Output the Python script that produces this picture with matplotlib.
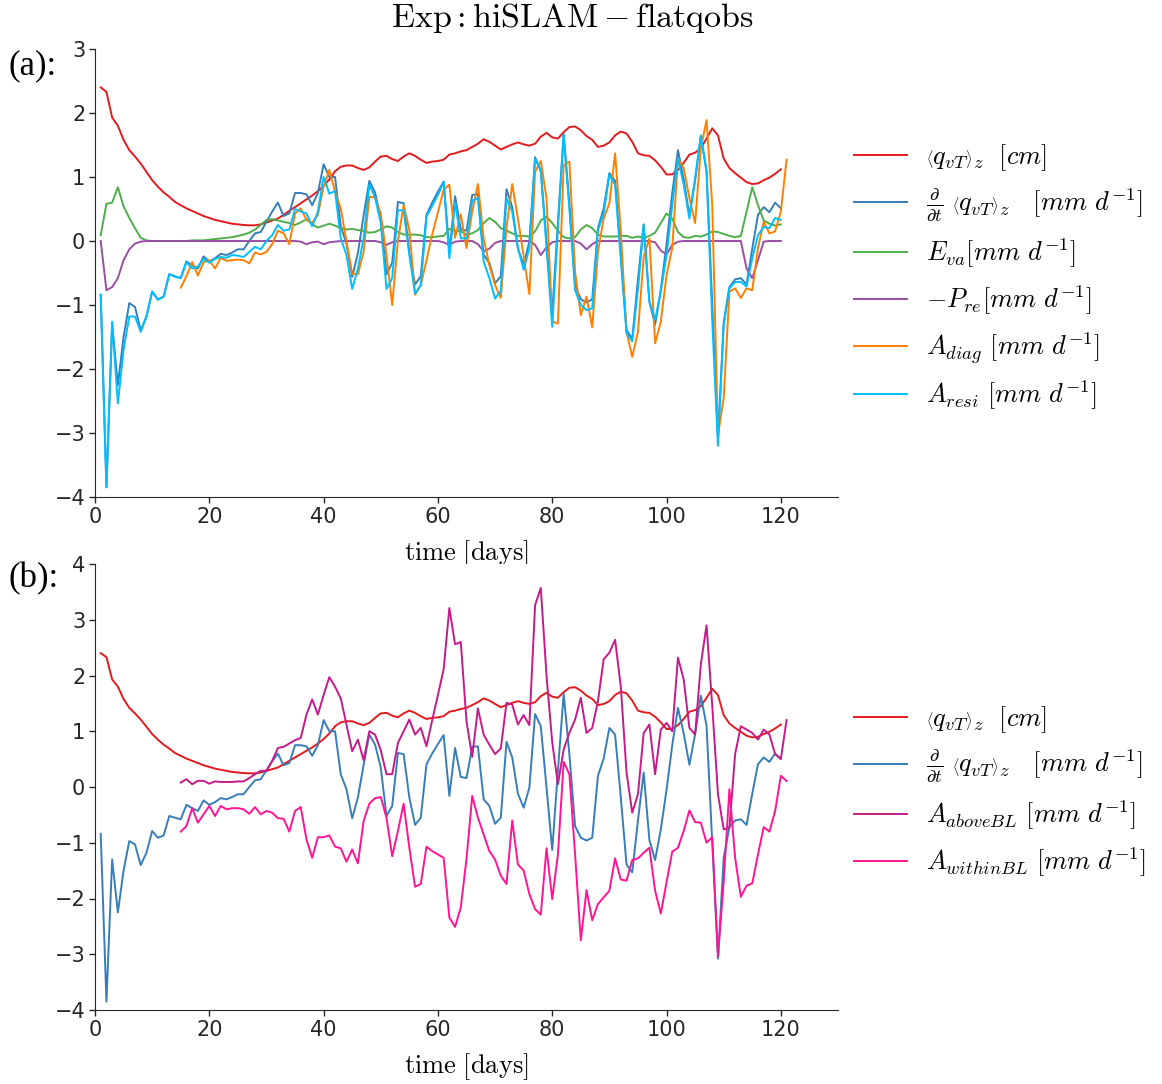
import numpy as np
import matplotlib
matplotlib.use("Agg")
import matplotlib.pyplot as plt

# ---- daily budget terms, day 1 .. 120 ----
qvt_cm = [2.40, 2.33, 1.93, 1.80, 1.58, 1.42, 1.32, 1.21, 1.08, 0.95,
          0.85, 0.76, 0.69, 0.61, 0.56, 0.51, 0.47, 0.43, 0.39, 0.36,
          0.33, 0.31, 0.29, 0.27, 0.26, 0.25, 0.245, 0.245, 0.26, 0.29,
          0.32, 0.35, 0.41, 0.47, 0.53, 0.59, 0.65, 0.71, 0.78, 0.86,
          0.96, 1.09, 1.16, 1.18, 1.18, 1.14, 1.11, 1.15, 1.24, 1.32,
          1.33, 1.28, 1.25, 1.32, 1.37, 1.33, 1.27, 1.22, 1.24, 1.25,
          1.27, 1.35, 1.37, 1.40, 1.42, 1.47, 1.52, 1.59, 1.55, 1.49,
          1.43, 1.47, 1.51, 1.54, 1.51, 1.49, 1.52, 1.63, 1.69, 1.62,
          1.60, 1.70, 1.78, 1.79, 1.73, 1.64, 1.58, 1.47, 1.49, 1.54,
          1.65, 1.71, 1.68, 1.55, 1.37, 1.34, 1.33, 1.26, 1.16, 1.04,
          1.04, 1.11, 1.22, 1.35, 1.38, 1.45, 1.60, 1.76, 1.65, 1.29,
          1.14, 1.06, 0.99, 0.92, 0.89, 0.90, 0.95, 0.99, 1.05, 1.12]

dqdt = [-0.84, -3.85, -1.30, -2.25, -1.50, -0.97, -1.03, -1.40, -1.18, -0.79,
        -0.91, -0.87, -0.52, -0.55, -0.58, -0.32, -0.38, -0.43, -0.24, -0.32,
        -0.27, -0.20, -0.22, -0.18, -0.13, -0.13, 0.00, 0.12, 0.14, 0.30,
        0.46, 0.60, 0.39, 0.43, 0.75, 0.75, 0.73, 0.56, 0.75, 1.20,
        1.00, 1.00, 0.23, -0.04, -0.56, -0.19, 0.40, 0.94, 0.76, 0.35,
        -0.52, -0.34, 0.61, 0.59, -0.19, -0.68, -0.55, 0.41, 0.60, 0.77,
        0.93, -0.16, 0.70, 0.18, 0.16, 0.72, 0.73, -0.22, -0.34, -0.66,
        -0.55, 0.81, 0.53, -0.12, -0.37, -0.01, 1.31, 1.09, -0.01, -1.13,
        0.30, 1.67, 0.59, -0.70, -0.91, -0.96, -0.91, 0.20, 0.51, 1.06,
        0.94, -0.19, -1.39, -1.53, -0.60, 0.26, -0.95, -1.31, -0.76, -0.05,
        0.75, 1.42, 0.96, 0.40, 0.95, 1.64, 1.10, -1.00, -3.08, -1.27,
        -0.72, -0.60, -0.58, -0.68, -0.12, 0.41, 0.53, 0.45, 0.60, 0.51]

evap = [0.09, 0.58, 0.60, 0.84, 0.54, 0.36, 0.20, 0.05, 0.01, 0.00,
        0.00, 0.00, 0.00, 0.00, 0.00, 0.00, 0.01, 0.01, 0.01, 0.02,
        0.03, 0.04, 0.05, 0.06, 0.08, 0.10, 0.13, 0.18, 0.25, 0.33,
        0.34, 0.32, 0.30, 0.28, 0.25, 0.29, 0.34, 0.26, 0.21, 0.24,
        0.27, 0.24, 0.20, 0.18, 0.19, 0.17, 0.16, 0.13, 0.14, 0.18,
        0.23, 0.21, 0.14, 0.10, 0.10, 0.10, 0.09, 0.06, 0.06, 0.07,
        0.08, 0.19, 0.16, 0.15, 0.10, 0.12, 0.17, 0.28, 0.36, 0.30,
        0.20, 0.16, 0.12, 0.08, 0.08, 0.07, 0.15, 0.32, 0.38, 0.28,
        0.16, 0.06, 0.04, 0.06, 0.18, 0.25, 0.20, 0.10, 0.07, 0.07,
        0.07, 0.08, 0.08, 0.05, 0.07, 0.05, 0.08, 0.13, 0.28, 0.43,
        0.35, 0.14, 0.06, 0.05, 0.08, 0.07, 0.10, 0.15, 0.14, 0.11,
        0.08, 0.06, 0.08, 0.46, 0.84, 0.56, 0.32, 0.27, 0.24, 0.26]

neg_prec = [0.00, -0.77, -0.72, -0.58, -0.30, -0.13, -0.04, -0.01, 0.00, 0.00,
            0.00, 0.00, 0.00, 0.00, 0.00, 0.00, 0.00, 0.00, 0.00, 0.00,
            0.00, 0.00, 0.00, 0.00, 0.00, 0.00, 0.00, 0.00, 0.00, 0.00,
            0.00, 0.00, 0.00, 0.00, 0.00, -0.01, -0.05, -0.02, -0.01, -0.05,
            -0.02, -0.01, 0.00, 0.00, 0.00, 0.00, 0.00, 0.00, 0.00, -0.02,
            -0.06, -0.02, 0.00, 0.00, 0.00, 0.00, 0.00, 0.00, 0.00, 0.00,
            -0.02, -0.06, -0.01, 0.00, 0.00, 0.00, -0.05, -0.16, -0.12, -0.03,
            0.00, 0.00, 0.00, 0.00, 0.00, 0.00, -0.06, -0.22, -0.10, -0.02,
            0.00, 0.00, 0.00, 0.00, -0.04, -0.13, -0.05, 0.00, 0.00, 0.00,
            0.00, 0.00, 0.00, 0.00, 0.00, 0.00, 0.00, -0.02, -0.15, -0.21,
            -0.06, -0.01, 0.00, 0.00, 0.00, 0.00, 0.00, 0.00, 0.00, 0.00,
            0.00, 0.00, 0.00, -0.43, -0.58, -0.30, -0.01, 0.00, 0.00, 0.00]

a_resi = [-0.84, -3.84, -1.26, -2.54, -1.70, -1.18, -1.18, -1.42, -1.18, -0.79,
          -0.92, -0.87, -0.52, -0.56, -0.58, -0.33, -0.43, -0.40, -0.28, -0.34,
          -0.28, -0.25, -0.26, -0.22, -0.23, -0.25, -0.17, -0.09, -0.13, 0.00,
          0.09, 0.25, 0.16, 0.18, 0.50, 0.46, 0.43, 0.23, 0.46, 1.00,
          0.74, 0.78, 0.04, -0.22, -0.75, -0.43, 0.04, 0.88, 0.68, 0.28,
          -0.75, -0.58, 0.48, 0.48, -0.22, -0.82, -0.69, 0.38, 0.55, 0.72,
          0.92, -0.27, 0.60, 0.04, 0.04, 0.63, 0.67, -0.32, -0.58, -0.90,
          -0.78, 0.67, 0.46, -0.11, -0.45, -0.11, 1.28, 1.11, -0.10, -1.34,
          0.20, 1.66, 0.50, -0.77, -1.00, -1.08, -1.05, 0.17, 0.43, 1.03,
          0.88, -0.30, -1.44, -1.57, -0.75, 0.25, -0.95, -1.23, -0.79, -0.22,
          0.56, 1.29, 0.88, 0.35, 0.98, 1.65, 1.08, -1.26, -3.20, -1.31,
          -0.74, -0.64, -0.64, -0.71, -0.27, 0.09, 0.22, 0.20, 0.36, 0.33]

# ---- advection terms, day 15 .. 121 ----
a_diag = [-0.73, -0.55, -0.33, -0.54, -0.33, -0.30, -0.43, -0.26, -0.31, -0.30,
          -0.29, -0.30, -0.35, -0.18, -0.21, -0.17, -0.05, 0.16, 0.12, -0.05,
          0.43, 0.51, 0.33, 0.28, 0.41, 0.85, 1.11, 0.77, 0.51, -0.01,
          -0.51, -0.52, -0.17, 0.69, 0.68, 0.43, -0.22, -1.00, 0.00, 0.56,
          0.17, -0.84, -0.69, -0.30, 0.10, 0.45, 0.80, 0.88, 0.05, 0.42,
          -0.11, 0.46, 0.89, 0.04, -0.38, -0.69, -0.89, 0.21, 0.89, 0.35,
          -0.24, -0.83, 1.08, 1.25, 0.67, -1.26, -1.29, 1.19, 1.24, -0.48,
          -1.16, -0.87, -1.35, -0.17, 0.35, 0.59, 1.37, 0.15, -1.42, -1.81,
          -1.42, -0.25, 0.04, -1.60, -1.26, -0.53, -0.11, 1.29, 1.14, 0.67,
          0.28, 1.45, 1.89, 0.56, -3.03, -2.46, -0.79, -0.74, -0.89, -0.74,
          -0.77, -0.11, 0.30, 0.12, 0.15, 0.46, 1.27]

a_above_bl = [0.08, 0.14, 0.05, 0.11, 0.11, 0.06, 0.10, 0.09, 0.09, 0.09,
              0.10, 0.10, 0.16, 0.23, 0.29, 0.29, 0.47, 0.70, 0.72, 0.78,
              0.84, 0.88, 1.30, 1.57, 1.30, 1.65, 1.97, 1.80, 1.59, 1.12,
              0.64, 0.85, 0.48, 1.00, 0.94, 0.66, 0.23, 0.23, 0.79, 1.00,
              1.21, 0.94, 1.06, 0.73, 1.20, 1.65, 2.11, 3.21, 2.56, 2.60,
              1.18, 0.54, 1.41, 0.94, 0.76, 0.59, 0.69, 1.51, 1.48, 1.12,
              1.29, 1.11, 3.26, 3.57, 2.00, 0.80, 0.05, 0.67, 0.97, 1.21,
              1.60, 0.97, 1.06, 1.54, 2.29, 2.41, 2.64, 1.80, 0.26, -0.46,
              -0.13, 0.97, 1.12, 0.23, 1.03, 1.15, 1.00, 2.32, 1.93, 1.06,
              0.94, 2.20, 2.90, 1.45, -0.13, -0.76, -0.73, 0.59, 1.09, 1.03,
              0.97, 0.85, 1.03, 0.94, 0.59, 0.50, 1.20]

a_within_bl = [-0.80, -0.70, -0.38, -0.64, -0.49, -0.34, -0.52, -0.34, -0.40, -0.38,
               -0.38, -0.40, -0.48, -0.36, -0.49, -0.43, -0.46, -0.56, -0.57, -0.80,
               -0.43, -0.36, -0.94, -1.27, -0.90, -0.90, -0.87, -1.07, -1.10, -1.34,
               -1.12, -1.37, -0.61, -0.30, -0.20, -0.18, -0.55, -1.24, -0.79, -0.30,
               -1.09, -1.79, -1.74, -1.07, -1.15, -1.21, -1.27, -2.34, -2.51, -2.16,
               -1.29, -0.16, -0.55, -0.85, -1.15, -1.30, -1.59, -1.74, -0.60, -1.39,
               -1.50, -1.92, -2.19, -2.29, -1.10, -2.01, -1.21, 0.45, 0.23, -1.21,
               -2.75, -1.85, -2.39, -2.10, -1.98, -1.86, -1.28, -1.66, -1.68, -1.31,
               -1.28, -1.18, -1.09, -1.86, -2.27, -1.71, -1.16, -1.09, -0.79, -0.42,
               -0.63, -0.64, -1.00, -0.90, -3.04, -1.70, -0.04, -1.27, -1.97, -1.77,
               -1.73, -1.21, -0.72, -0.80, -0.43, 0.20, 0.11]

first_day = 1
first_day_adv = 15
xticks = [0, 20, 40, 60, 80, 100, 120]

lbl_q = r'$\left\langle q_{vT}\right\rangle_z\ \ [cm]$'
lbl_dq = r'$\frac{\partial}{\partial t}\ \left\langle q_{vT}\right\rangle_z\ \ \ [mm\ d^{-1}]$'
lbl_e = r'$E_{va}[mm\ d^{-1}]$'
lbl_p = r'$-P_{re}[mm\ d^{-1}]$'
lbl_diag = r'$A_{diag}\ [mm\ d^{-1}]$'
lbl_resi = r'$A_{resi}\ [mm\ d^{-1}]$'
lbl_above = r'$A_{aboveBL}\ [mm\ d^{-1}]$'
lbl_within = r'$A_{withinBL}\ [mm\ d^{-1}]$'

c_red = '#e41a1c'
c_blue = '#377eb8'
c_green = '#4daf4a'
c_purple = '#984ea3'
c_orange = '#ff7f00'
c_cyan = '#00bfff'
c_above = '#c51b8a'
c_within = '#ff1493'

plt.rcParams['font.family'] = ['DejaVu Sans']
plt.rcParams['mathtext.fontset'] = 'cm'
plt.rcParams['axes.edgecolor'] = '0.15'
plt.rcParams['xtick.color'] = '0.15'
plt.rcParams['ytick.color'] = '0.15'


def days(values, start):
    return np.arange(start, start + len(values))


W, H = 1162, 1084
fig = plt.figure(figsize=(W / 100, H / 100), dpi=100)
ax_a = fig.add_axes([95 / W, 1 - 497 / H, 743 / W, 448 / H])
ax_b = fig.add_axes([95 / W, 1 - 1010 / H, 743 / W, 446 / H])

lw = 1.4
ax_a.plot(days(qvt_cm, first_day), qvt_cm, color=c_red, lw=lw, label=lbl_q)
ax_a.plot(days(dqdt, first_day), dqdt, color=c_blue, lw=lw, label=lbl_dq)
ax_a.plot(days(evap, first_day), evap, color=c_green, lw=lw, label=lbl_e)
ax_a.plot(days(neg_prec, first_day), neg_prec, color=c_purple, lw=lw, label=lbl_p)
ax_a.plot(days(a_diag, first_day_adv), a_diag, color=c_orange, lw=lw, label=lbl_diag)
ax_a.plot(days(a_resi, first_day), a_resi, color=c_cyan, lw=lw, label=lbl_resi)

ax_b.plot(days(qvt_cm, first_day), qvt_cm, color=c_red, lw=lw, label=lbl_q)
ax_b.plot(days(dqdt, first_day), dqdt, color=c_blue, lw=lw, label=lbl_dq)
ax_b.plot(days(a_above_bl, first_day_adv), a_above_bl, color=c_above, lw=lw, label=lbl_above)
ax_b.plot(days(a_within_bl, first_day_adv), a_within_bl, color=c_within, lw=lw, label=lbl_within)

for ax, (ylo, yhi) in ((ax_a, (-4, 3)), (ax_b, (-4, 4))):
    ax.set_xlim(0, 130)
    ax.set_ylim(ylo, yhi)
    ax.set_xticks(xticks)
    ax.set_yticks(range(ylo, yhi + 1))
    ax.spines['top'].set_visible(False)
    ax.spines['right'].set_visible(False)
    ax.tick_params(direction='out', length=4, width=1, labelsize=15, pad=3)
    ax.set_xlabel(r'$\mathrm{time\ [days]}$', fontsize=19, labelpad=8)
    ax.legend(loc='center left', bbox_to_anchor=(1.0, 0.49), frameon=False,
              fontsize=19, handlelength=2.0, handletextpad=0.75,
              labelspacing=0.5, borderaxespad=0.2)

fig.text(0.493, 1 - 18 / H, r'$\mathrm{Exp: hiSLAM-flatqobs}$',
         ha='center', va='center', fontsize=24.5)
fig.text(8 / W, 1 - 66 / H, '(a):', ha='left', va='center',
         fontsize=25, family='Liberation Serif')
fig.text(8 / W, 1 - 579 / H, '(b):', ha='left', va='center',
         fontsize=25, family='Liberation Serif')

fig.savefig('out.png', dpi=100)
